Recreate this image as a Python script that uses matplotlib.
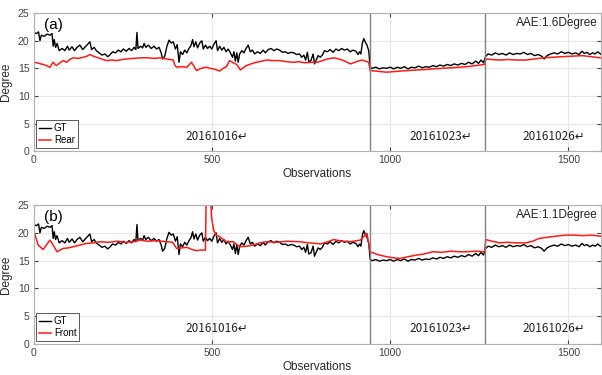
import matplotlib
matplotlib.use("Agg")
from matplotlib import pyplot as plt

plt.rcParams['font.family'] = ['Liberation Sans', 'DejaVu Sans']

# ground truth (shared by both panels): observation index, degree
gt_obs = [0, 8, 14, 18, 22, 30, 38, 46, 52, 55, 58, 62, 66, 72, 80, 88, 95, 100,
          108, 115, 122, 130, 138, 145, 152, 158, 163, 170, 176, 184, 192, 200,
          208, 215, 222, 230, 238, 245, 252, 260, 268, 275, 282, 287, 290, 293,
          300, 306, 310, 315, 322, 330, 338, 345, 352, 358, 362, 368, 374, 380,
          386, 392, 398, 403, 408, 412, 418, 424, 430, 436, 442, 446, 450, 455,
          460, 466, 472, 476, 482, 488, 494, 500, 506, 512, 516, 522, 528, 534,
          540, 546, 552, 558, 562, 566, 570, 574, 578, 584, 590, 596, 602, 608,
          614, 620, 628, 636, 644, 650, 658, 666, 674, 682, 690, 698, 706, 714,
          722, 730, 738, 746, 752, 758, 763, 768, 772, 778, 784, 788, 792, 798,
          804, 810, 816, 824, 832, 840, 848, 856, 864, 872, 880, 888, 896, 904,
          910, 914, 918, 922, 926, 930, 935, 940, 944, 950, 960, 970, 980, 990,
          1000, 1010, 1020, 1030, 1040, 1050, 1060, 1070, 1080, 1090, 1100, 1110,
          1120, 1130, 1140, 1150, 1160, 1170, 1180, 1190, 1200, 1210, 1220, 1230,
          1240, 1248, 1255, 1262, 1268, 1275, 1285, 1295, 1305, 1315, 1325, 1335,
          1345, 1355, 1365, 1375, 1385, 1395, 1405, 1415, 1425, 1432, 1440, 1450,
          1460, 1470, 1480, 1490, 1500, 1510, 1520, 1530, 1538, 1545, 1552, 1560,
          1568, 1575, 1582, 1590]
gt_deg = [21.5, 21.3, 21.6, 20.0, 21.0, 20.8, 21.2, 21.0, 21.3, 19.0, 20.2, 18.8,
          19.5, 18.2, 18.6, 18.2, 19.0, 18.3, 18.9, 18.2, 18.8, 19.2, 18.4, 18.9,
          19.4, 19.8, 18.4, 18.8, 18.2, 17.8, 17.4, 17.6, 17.1, 17.5, 18.0, 17.8,
          18.3, 18.0, 18.5, 18.1, 18.6, 18.2, 18.8, 18.4, 21.5, 18.6, 19.0, 18.7,
          19.5, 18.8, 19.2, 18.6, 19.0, 18.5, 18.8, 17.8, 16.7, 17.2, 19.0, 20.1,
          19.6, 19.8, 18.5, 19.3, 16.1, 18.0, 17.5, 18.3, 17.8, 18.6, 19.2, 20.2,
          18.9, 19.8, 18.7, 19.6, 20.0, 18.5, 19.2, 18.6, 19.0, 18.5, 19.4, 20.0,
          18.2, 19.0, 18.3, 18.8, 18.0, 18.5, 17.8, 17.0, 18.0, 16.3, 17.8, 16.1,
          17.6, 18.2, 17.8, 18.6, 19.2, 18.0, 18.3, 17.6, 18.0, 17.7, 18.3, 17.8,
          18.4, 18.6, 18.2, 18.5, 18.3, 17.9, 18.0, 17.7, 17.9, 17.8, 17.5, 17.6,
          17.0, 17.4, 16.5, 17.9, 16.2, 16.4, 17.6, 15.8, 16.4, 17.3, 17.0, 17.4,
          18.2, 18.0, 18.4, 17.9, 18.5, 18.2, 18.6, 18.3, 18.5, 18.0, 18.3, 18.1,
          17.5, 18.0, 17.6, 19.5, 20.4, 19.8, 19.2, 18.2, 15.2, 15.0, 15.2, 14.9,
          15.1, 15.0, 15.2, 14.9, 15.2, 15.0, 15.3, 14.9, 15.2, 15.1, 15.4, 15.1,
          15.3, 15.2, 15.5, 15.3, 15.6, 15.4, 15.7, 15.5, 15.8, 15.6, 15.9, 15.7,
          16.1, 15.8, 16.3, 15.9, 16.5, 16.0, 17.2, 17.6, 17.4, 17.8, 17.5, 17.7,
          17.4, 17.8, 17.5, 17.7, 17.6, 17.9, 17.5, 17.7, 17.3, 17.5, 17.2, 16.7,
          17.3, 17.6, 17.8, 17.6, 18.0, 17.7, 17.9, 17.6, 17.8, 17.5, 18.1, 17.7,
          17.9, 17.5, 17.8, 17.6, 18.0, 17.6]

# rear camera estimate
rear_obs = [0, 10, 20, 28, 36, 46, 55, 64, 74, 83, 93, 102, 111, 125, 140, 150,
            158, 168, 177, 190, 205, 220, 233, 248, 261, 280, 300, 320, 340, 355,
            373, 392, 396, 401, 415, 430, 443, 457, 470, 485, 495, 504, 514, 522,
            532, 541, 550, 560, 570, 580, 590, 597, 610, 625, 640, 653, 670, 690,
            710, 728, 745, 760, 784, 796, 810, 825, 842, 856, 870, 889, 905, 921,
            940, 944, 960, 975, 990, 1010, 1028, 1050, 1075, 1100, 1120, 1145,
            1170, 1195, 1214, 1240, 1265, 1268, 1285, 1307, 1330, 1355, 1381,
            1405, 1430, 1455, 1480, 1510, 1539, 1565, 1590]
rear_deg = [16.1, 16.0, 15.8, 15.7, 15.5, 15.2, 16.1, 15.5, 16.0, 16.4, 16.1,
            16.6, 16.9, 16.8, 17.0, 17.2, 17.5, 17.2, 17.0, 16.7, 16.4, 16.5,
            16.4, 16.6, 16.7, 16.8, 16.9, 16.9, 16.8, 16.9, 16.7, 16.5, 15.6,
            15.2, 15.3, 15.2, 16.1, 14.6, 15.0, 15.2, 15.0, 14.9, 14.7, 14.5,
            15.0, 15.3, 16.4, 16.0, 15.7, 14.7, 15.2, 15.5, 15.8, 16.1, 16.3,
            16.5, 16.4, 16.4, 16.2, 16.1, 16.2, 16.0, 16.1, 16.1, 16.4, 16.7,
            16.9, 16.7, 16.4, 15.8, 16.2, 16.5, 16.1, 14.6, 14.5, 14.4, 14.3,
            14.4, 14.5, 14.6, 14.7, 14.8, 14.9, 15.0, 15.1, 15.2, 15.3, 15.5,
            15.7, 16.7, 16.6, 16.5, 16.6, 16.5, 16.5, 16.7, 16.9, 17.0, 17.1,
            17.2, 17.3, 17.1, 16.9]

# front camera estimate
front_obs = [0, 13, 27, 46, 55, 66, 83, 98, 111, 130, 149, 168, 186, 210, 235,
             258, 280, 298, 320, 345, 373, 390, 401, 415, 430, 445, 457, 470, 482,
             485, 495, 499, 505, 512, 522, 541, 560, 578, 598, 616, 635, 653, 680,
             710, 747, 770, 793, 805, 825, 842, 865, 889, 916, 935, 944, 965, 990,
             1010, 1028, 1050, 1074, 1095, 1120, 1145, 1170, 1195, 1214, 1240,
             1265, 1268, 1285, 1307, 1330, 1355, 1381, 1400, 1418, 1440, 1465,
             1492, 1515, 1540, 1565, 1590]
front_deg = [20.5, 17.8, 17.0, 18.7, 17.8, 16.6, 17.2, 17.3, 17.5, 17.8, 18.1,
             18.2, 18.4, 18.3, 18.5, 18.3, 18.4, 18.7, 18.5, 18.6, 18.4, 18.3,
             17.2, 17.3, 17.4, 17.0, 16.8, 16.9, 16.9, 30.0, 30.0, 22.9, 20.5,
             19.6, 19.3, 18.4, 18.4, 17.5, 17.6, 17.8, 18.2, 18.4, 18.3, 18.5,
             18.4, 18.2, 18.1, 18.0, 18.4, 18.8, 18.5, 18.4, 18.7, 19.9, 16.6,
             16.1, 15.7, 15.5, 15.4, 15.7, 16.0, 16.2, 16.6, 16.5, 16.7, 16.6,
             16.6, 16.7, 16.6, 18.8, 18.5, 18.2, 18.3, 18.2, 18.2, 18.5, 19.0,
             19.2, 19.4, 19.6, 19.6, 19.5, 19.6, 19.4]

day_bounds = [943, 1267]
day_labels = ['20161016\u21b5', '20161023\u21b5', '20161026\u21b5']
day_centers = [513, 1143, 1460]

panels = [('(a)', 'Rear', rear_obs, rear_deg, 'AAE:1.6Degree'),
          ('(b)', 'Front', front_obs, front_deg, 'AAE:1.1Degree')]


def draw_panel(ax, tag, name, obs, deg, aae):
    ax.plot(gt_obs, gt_deg, color='black', lw=1.0, label='GT')
    ax.plot(obs, deg, color='#ff1a1a', lw=1.1, label=name)
    for b in day_bounds:
        ax.axvline(b, color='#808080', lw=1.0)
    for lbl, c in zip(day_labels, day_centers):
        ax.text(c, 2.7, lbl, ha='center', va='center', fontsize=8.5,
                color='#222222', family=['Noto Sans CJK SC', 'DejaVu Sans'])
    ax.text(1582, 23.2, aae, ha='right', va='center', fontsize=8.5, color='#222222')
    ax.text(57, 22.8, tag, ha='center', va='center', fontsize=11, color='black')
    ax.set_xlim(0, 1592)
    ax.set_ylim(0, 25)
    ax.set_xticks([0, 500, 1000, 1500])
    ax.set_yticks([0, 5, 10, 15, 20, 25])
    ax.grid(True, color='#e6e6e6', lw=0.8)
    ax.set_axisbelow(True)
    ax.tick_params(direction='in', labelsize=7.5, colors='#404040', length=3,
                   top=True, right=True, pad=3)
    for sp in ax.spines.values():
        sp.set_color('#b0b0b0')
        sp.set_linewidth(0.8)
    ax.set_xlabel('Observations', fontsize=8.5, color='#262626', labelpad=2)
    ax.set_ylabel('Degree', fontsize=8.5, color='#262626', labelpad=4)
    leg = ax.legend(loc='lower left', fontsize=7, handlelength=1.2,
                    handletextpad=0.3, borderpad=0.3, labelspacing=0.2,
                    fancybox=False, framealpha=1, borderaxespad=0.3)
    leg.get_frame().set_edgecolor('#404040')
    leg.get_frame().set_linewidth(0.6)


fig = plt.figure(figsize=(6.02, 3.75), dpi=100)
ax_a = fig.add_axes([0.0557, 0.597, 0.943, 0.368])
ax_b = fig.add_axes([0.0557, 0.083, 0.943, 0.370])
for ax, p in zip([ax_a, ax_b], panels):
    draw_panel(ax, *p)

fig.savefig('out.png', dpi=100)
